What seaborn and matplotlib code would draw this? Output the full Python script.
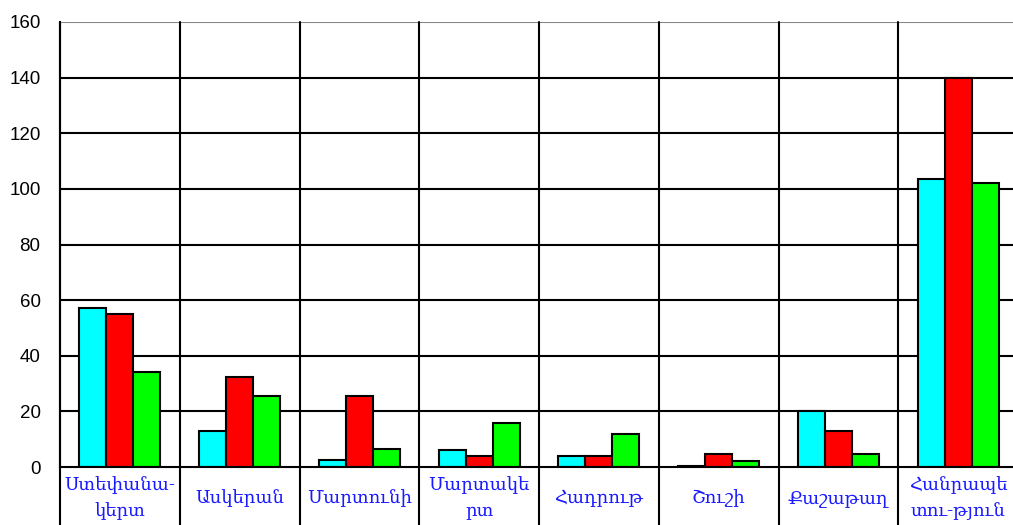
import matplotlib
matplotlib.use("Agg")
import matplotlib.pyplot as plt
import seaborn as sns
import pandas as pd

categories = ["Ստեփանա-\nկերտ", "Ասկերան", "Մարտունի", "Մարտակե\nրտ",
              "Հադրութ", "Շուշի", "Քաշաթաղ", "Հանրապե\nտու-թյուն"]
series_names = ["Series 1", "Series 2", "Series 3"]
series1 = [57, 13, 2.5, 6, 4, 0.5, 20, 103.5]
series2 = [55, 32.5, 25.5, 4, 4, 4.7, 13, 140]
series3 = [34, 25.5, 6.5, 15.8, 11.8, 2, 4.5, 102]
colors = ["#00FFFF", "#FF0000", "#00FF00"]
yticks = [0, 20, 40, 60, 80, 100, 120, 140, 160]

rows = []
for name, vals in zip(series_names, [series1, series2, series3]):
    for c, v in zip(categories, vals):
        rows.append({"cat": c, "series": name, "value": v})
df = pd.DataFrame(rows)

sns.set_style("white")
plt.rcParams["font.family"] = ["Liberation Sans", "DejaVu Sans"]

W, H = 1013, 525
fig = plt.figure(figsize=(W / 100, H / 100), dpi=100)
ax = fig.add_axes([60 / W, 58 / H, 958 / W, 445 / H])

sns.barplot(data=df, x="cat", y="value", hue="series", order=categories,
            hue_order=series_names, palette=colors, width=0.675,
            edgecolor="black", linewidth=1.5, saturation=1, ax=ax, legend=False)

ax.set_ylim(0, 160)
ax.set_xlim(-0.5, len(categories) - 0.5)
ax.set_yticks(yticks)
ax.set_yticklabels([str(t) for t in yticks], fontsize=13.5, color="black")
ax.tick_params(axis="y", direction="out", length=7, width=1.5, color="black", pad=7)
ax.set_xlabel("")
ax.set_ylabel("")
ax.set_xticks(range(len(categories)))
ax.set_xticklabels([])
ax.tick_params(axis="x", length=0)

for t in yticks[1:]:
    ax.axhline(t, color="#888888" if t == 160 else "black", lw=1.5, zorder=0.5)

trans = ax.get_xaxis_transform()
for i in range(len(categories) + 1):
    x = i - 0.5
    ax.plot([x, x], [-58 / 445, 1], transform=trans, color="black", lw=1.5,
            clip_on=False, zorder=0.6)

for i, c in enumerate(categories):
    ax.text(i, -31 / 445, c, transform=trans, ha="center", va="center",
            color="#1a1aff", fontsize=13, family=["DejaVu Serif", "DejaVu Sans"],
            linespacing=1.55)

for s in ["top", "right"]:
    ax.spines[s].set_visible(False)
ax.spines["left"].set_color("black")
ax.spines["left"].set_linewidth(1.5)
ax.spines["bottom"].set_color("black")
ax.spines["bottom"].set_linewidth(1.5)

fig.savefig("out.png", dpi=100)
